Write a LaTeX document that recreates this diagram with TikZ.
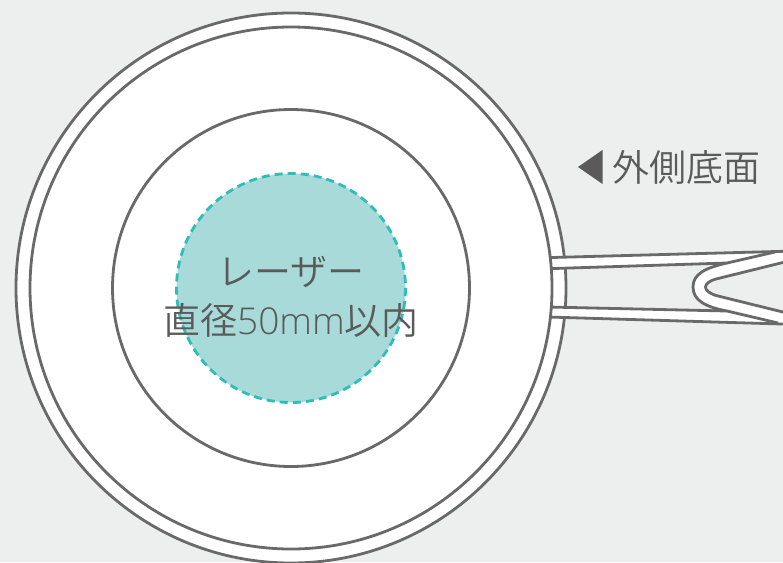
\documentclass[tikz,border=0pt]{standalone}
\usepackage{fontspec}
\setmainfont{Open Sans}
\newfontfamily\cjk{Noto Sans CJK JP}[UprightFont=* DemiLight]
\newfontfamily\latn{Open Sans Light}
\definecolor{bg}{HTML}{EDEFEE}
\definecolor{ln}{HTML}{696969}
\definecolor{txt}{HTML}{5A5A5A}
\definecolor{tealf}{HTML}{A8DADA}
\definecolor{teald}{HTML}{2FBDBA}
\tikzset{
  outline/.style={draw=ln,line width=2.8pt,fill=white,line join=round},
  stroke/.style={draw=ln,line width=2.8pt},
  label/.style={text=txt,inner sep=0pt,font=\fontsize{37}{46}\selectfont,align=center},
}
\begin{document}
\begin{tikzpicture}[x=1pt,y=-1pt]
\useasboundingbox (0,0) rectangle (783,562);
\clip (0,0) rectangle (783,562);
\fill[bg] (0,0) rectangle (783,562);
% rim
\draw[outline] (291,288) circle[radius=275];
% handle
\draw[outline] (548,257.6) -- (795,251) -- (795,259.5) -- (716,279)
  .. controls (702,283) and (702,291) .. (716,295.5) -- (795,315) -- (795,324.4)
  -- (548,317) -- (548,307) -- (727,311)
  .. controls (705,307) and (693,300) .. (693,287)
  .. controls (693,274) and (705,268) .. (727,263)
  -- (548,268.7) -- cycle;
\draw[stroke] (727,263) -- (775,252);
\draw[stroke] (727,311) -- (778,323);
% pan
\draw[outline] (291,288) circle[radius=261];
\draw[outline] (291,288) circle[radius=178.5];
\draw[draw=teald,fill=tealf,line width=2.8pt,dash pattern=on 8pt off 5.08pt] (291,288) circle[radius=114.5];
% text
\node[label,anchor=center] (laser) at (291,272.5) {\cjk レーザー};
\node[label,anchor=center] (dia) at (291,320) {\cjk 直径\latn 50mm\cjk 以内};
\path[fill=txt] (578,167) -- (602.5,150) -- (602.5,184) -- cycle;
\node[label,anchor=center] (side) at (686.5,167.5) {\cjk 外側底面};
\end{tikzpicture}
\end{document}
